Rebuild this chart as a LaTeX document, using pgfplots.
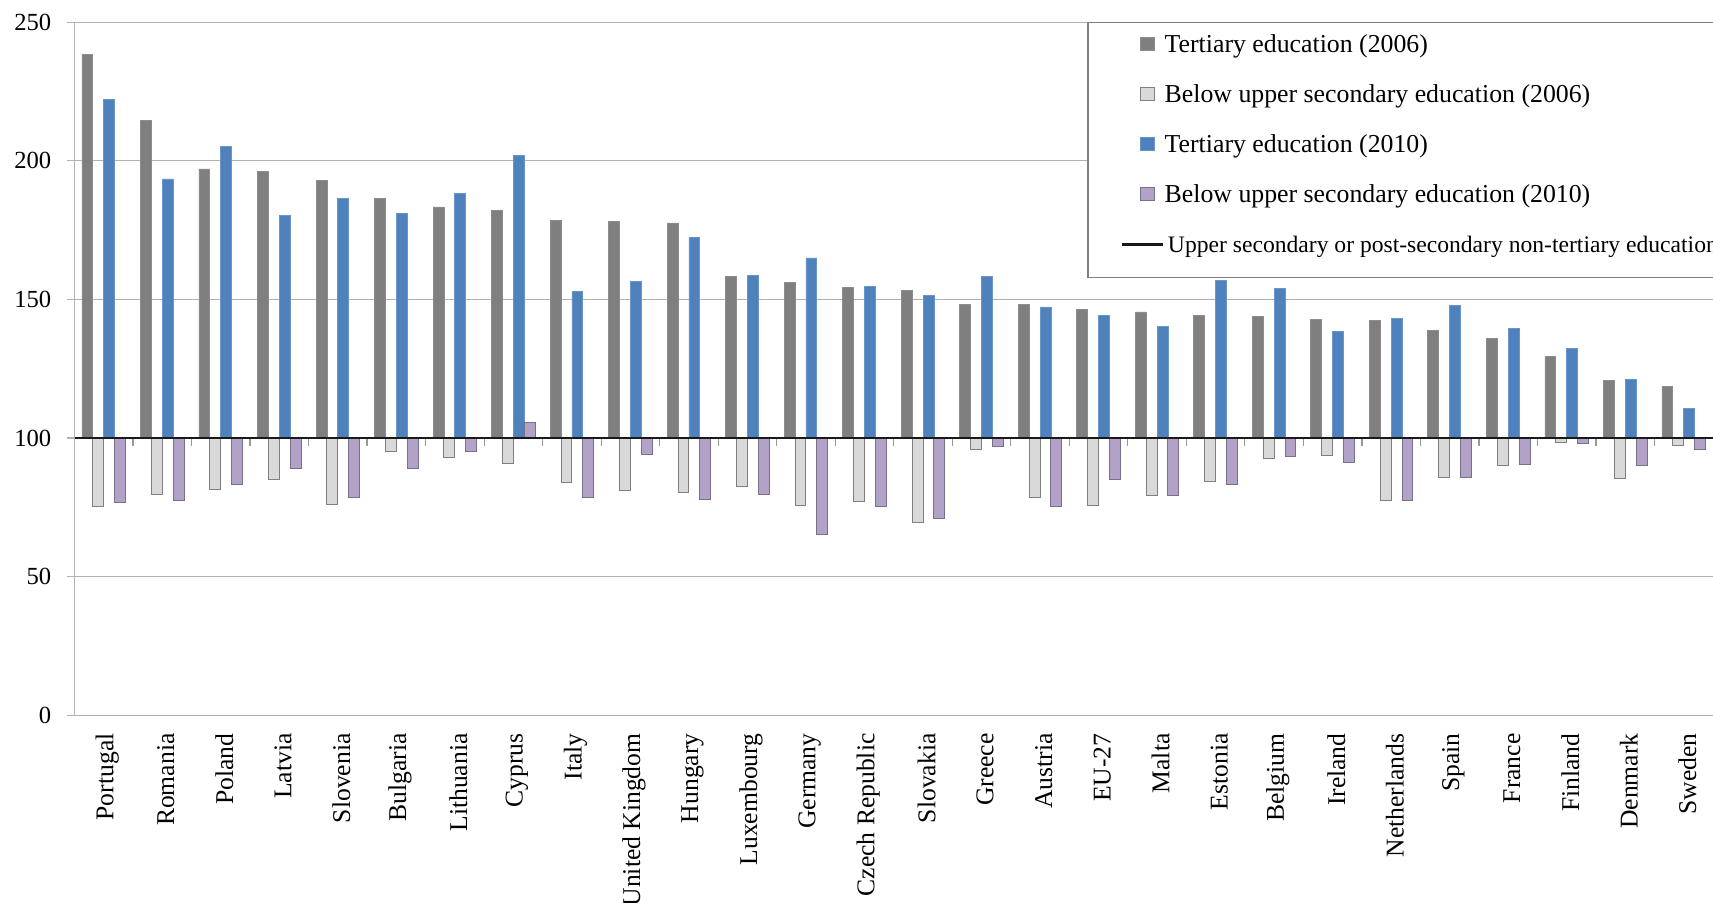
\documentclass[border=0pt]{standalone}
\usepackage{fontspec}
\setmainfont{Liberation Serif}
\usepackage{pgfplots}
\usepackage{pgfplotstable}
\pgfplotsset{compat=1.18}

\definecolor{cDark}{HTML}{7F7F7F}
\definecolor{cDarkE}{HTML}{8C8C8C}
\definecolor{cLight}{HTML}{D9D9D9}
\definecolor{cLightE}{HTML}{7F7F7F}
\definecolor{cBlue}{HTML}{4F81BD}
\definecolor{cBlueE}{HTML}{6A95CB}
\definecolor{cPurp}{HTML}{B3A2C7}
\definecolor{cPurpE}{HTML}{76708A}
\definecolor{cGrid}{HTML}{B2B2B2}

\pgfplotsset{
  sqlegend/.style={legend image code/.code={\draw[##1, line width=0.5pt] (9.3pt,-3.25pt) rectangle (16.3pt,3.25pt);}},
  linelegend/.style={legend image code/.code={\draw[##1, line width=1.5pt] (0pt,0pt) -- (20.5pt,0pt);}},
}

% x: category index; t06/b06/t10/b10: index values (upper secondary = 100)
\pgfplotstableread{
x  t06    b06   t10    b10
0  238.5  75.3  222.1  76.7
1  214.7  79.8  193.5  77.5
2  197.1  81.6  205.1  83.3
3  196.1  85.1  180.3  89.0
4  193.1  76.2  186.5  78.5
5  186.5  95.3  181.2  89.0
6  183.4  93.0  188.3  95.3
7  182.1  90.9  201.9  105.8
8  178.6  83.9  152.9  78.5
9  178.2  81.1  156.4  94.0
10 177.6  80.3  172.3  78.0
11 158.2  82.4  158.7  79.8
12 156.1  75.8  165.0  65.2
13 154.4  77.3  154.8  75.3
14 153.4  69.7  151.6  70.9
15 148.1  95.9  158.2  96.8
16 148.1  78.5  147.3  75.3
17 146.3  75.8  144.2  85.1
18 145.5  79.3  140.2  79.3
19 144.2  84.2  156.9  83.4
20 143.8  92.7  153.9  93.5
21 142.8  93.7  138.4  91.3
22 142.4  77.6  143.3  77.6
23 138.9  85.9  147.7  85.9
24 135.9  90.0  139.4  90.5
25 129.6  98.4  132.3  98.1
26 120.8  85.6  121.3  90.0
27 118.7  97.2  110.7  95.8
}\datatable

\begin{document}
\begin{tikzpicture}
\begin{axis}[
  name=ax,
  scale only axis,
  width=819.25pt, height=346.5pt,
  xmin=-0.5, xmax=27.5,
  ymin=-100, ymax=150,
  clip=false,
  axis lines*=left,
  axis line style={cGrid, line width=0.6pt},
  ytick={-100,-50,0,50,100,150},
  yticklabels={0,50,100,150,200,250},
  ymajorgrids,
  grid style={cGrid, line width=0.6pt},
  tick align=outside,
  major tick length=3.85pt,
  ytick style={cGrid, line width=0.6pt},
  yticklabel style={font=\fontsize{12.3}{14}\selectfont, inner sep=0pt, anchor=east},
  yticklabel shift=7.55pt,
  xtick={0,...,27},
  xticklabels={Portugal,Romania,Poland,Latvia,Slovenia,Bulgaria,Lithuania,Cyprus,Italy,United Kingdom,Hungary,Luxembourg,Germany,Czech Republic,Slovakia,Greece,Austria,EU-27,Malta,Estonia,Belgium,Ireland,Netherlands,Spain,France,Finland,Denmark,Sweden},
  xtick style={draw=none},
  xticklabel style={rotate=90, anchor=east, inner sep=0pt, yshift=-1.8pt, font=\fontsize{12.8}{14}\selectfont},
  xticklabel shift=5.05pt,
  /pgf/number format/assume math mode=true,
  legend cell align=left,
  legend style={
    at={(rel axis cs:0.6385,0.986)}, anchor=north west,
    draw=none, fill=none, inner sep=0pt, outer sep=0pt,
    /tikz/row sep=13pt, /tikz/column sep=0pt,
    font=\fontsize{12.9}{15}\selectfont,
    nodes={inner sep=0pt, text height=10pt, text depth=2pt},
  },
]
\addplot[ybar, bar width=5.45pt, bar shift=-8.175pt, fill=cDark, draw=cDarkE, line width=0.4pt, sqlegend]
  table[x=x, y expr=\thisrow{t06}-100] {\datatable};
\addlegendentry{Tertiary education (2006)}
\addplot[ybar, bar width=5.45pt, bar shift=-2.725pt, fill=cLight, draw=cLightE, line width=0.5pt, sqlegend]
  table[x=x, y expr=\thisrow{b06}-100] {\datatable};
\addlegendentry{Below upper secondary education (2006)}
\addplot[ybar, bar width=5.45pt, bar shift=2.725pt, fill=cBlue, draw=cBlueE, line width=0.4pt, sqlegend]
  table[x=x, y expr=\thisrow{t10}-100] {\datatable};
\addlegendentry{Tertiary education (2010)}
\addplot[ybar, bar width=5.45pt, bar shift=8.175pt, fill=cPurp, draw=cPurpE, line width=0.5pt, sqlegend]
  table[x=x, y expr=\thisrow{b10}-100] {\datatable};
\addlegendentry{Below upper secondary education (2010)}

\pgfplotsinvokeforeach{0.5,1.5,...,26.5}{\draw[black!40, line width=0.6pt] (axis cs:#1,0) -- ++(0pt,-3.85pt);}
\draw[black!50, line width=0.6pt, fill=white] (rel axis cs:0.6186,1) rectangle (rel axis cs:1.2,0.6315);

\addplot[black!90, line width=1pt, linelegend, y filter/.expression={y-100}]
  coordinates {(-0.5,100) (27.5,100)};
\addlegendentry{\fontsize{11.8}{14}\selectfont\hspace*{1.65pt}Upper secondary or post-secondary non-tertiary education}
\end{axis}
\pgfresetboundingbox
\path[use as bounding box] ([xshift=-37.25pt,yshift=-93.85pt]ax.south west) rectangle ([yshift=11.15pt]ax.north east);
\end{tikzpicture}
\end{document}
